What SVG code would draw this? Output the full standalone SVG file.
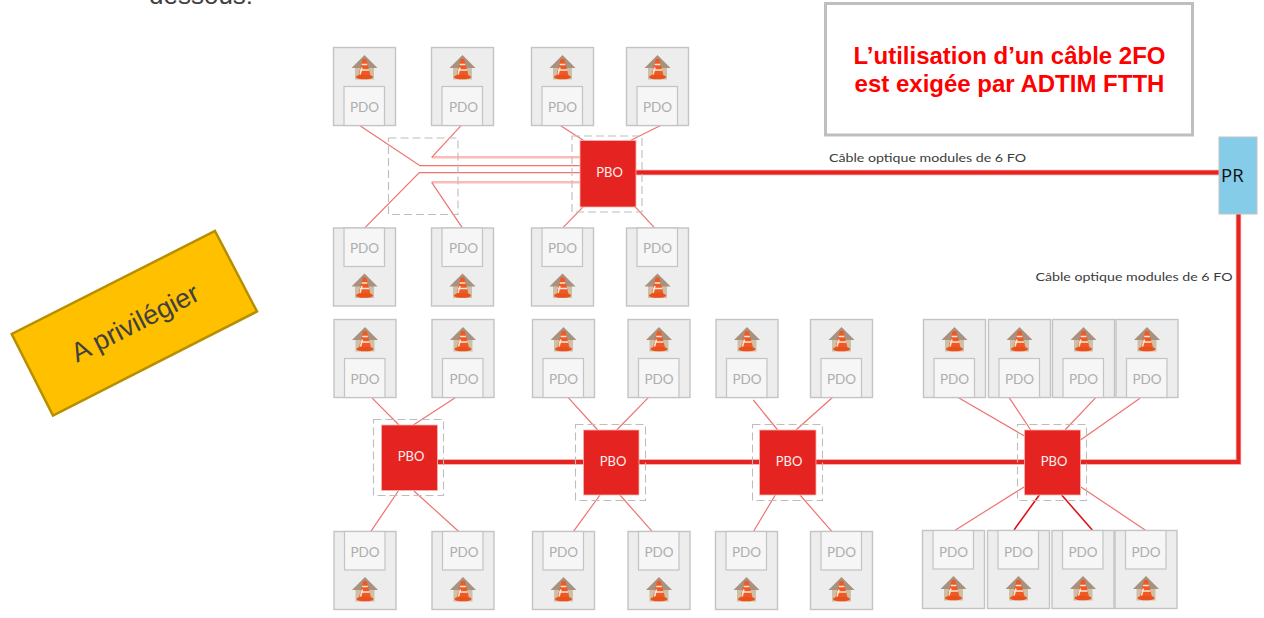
<svg xmlns="http://www.w3.org/2000/svg" xmlns:xlink="http://www.w3.org/1999/xlink" width="1264" height="618" viewBox="0 0 1264 618">
<style>
.card{fill:#ededed;stroke:#c4c4c4;stroke-width:1.4}
.inner{fill:#f6f6f6;stroke:#c4c4c4;stroke-width:1.2}
.pdo{font-family:"Lato","Open Sans",sans-serif;font-size:13.5px;fill:#aeaeae;text-anchor:middle}
.pbo{fill:#e52421;stroke:#f7b5b0;stroke-width:.8}
.pbot{font-family:"Lato","Open Sans",sans-serif;font-size:13px;fill:#fdeeee;text-anchor:middle}
.dash{fill:none;stroke:#bdbdbd;stroke-width:1.1;stroke-dasharray:8 4}
.thin{fill:none;stroke:#ee7370;stroke-width:1.2}
.thinb{fill:none;stroke:#f9bcb9;stroke-width:2.4}
.dark{fill:none;stroke:#e0121a;stroke-width:1.6}
.halo{fill:none;stroke:#f29a97;stroke-width:5.400}
.thick{fill:none;stroke:#e52421;stroke-width:3.800}
.cap{font-family:"Lato","Open Sans",sans-serif;font-size:12px;fill:#3c3c3c}
</style>
<defs>
<g id="house">
<rect x="-9.500" y="11" width="19" height="13.500" fill="#cfc0a5"/>
<polygon points="0,0 13,13 -13,13" fill="#a8927f"/>
<polygon points="-1.800,4 1.800,4 6,20.500 -6,20.500" fill="#ee5a24"/>
<path d="M-2.800,9.500 L2.800,9.500 M-4.500,15 L4.500,15 M-4.500,19.500 L-2.500,12.500" stroke="#fbe6dc" stroke-width="1.500" fill="none"/>
<ellipse cx="0" cy="22" rx="8.500" ry="2.300" fill="#ea4f1c"/>
</g>
<g id="up"><rect class="card" width="62" height="78"/><rect class="inner" x="10.500" y="39" width="40.500" height="39"/><use href="#house" x="31" y="7.500"/></g>
<g id="down"><rect class="card" width="62" height="78"/><rect class="inner" x="10.500" y="0" width="40.500" height="38.500"/><use href="#house" x="31" y="45.500"/></g>
</defs>
<rect width="1264" height="618" fill="#fff"/>
<text x="149" y="4" font-family="'Liberation Sans',Arial,sans-serif" font-size="26" fill="#404040">dessous:</text>
<g id="connectors">
<path class="thinb" d="M431.700 157.300H580M431.700 182.300H580"/>
<path class="thin" d="M461 125.700L431.700 157.300M462.700 228.300L431.700 182.300"/>
<path class="thin" d="M360 125.700L420 165.700H580M364.300 228.300L419.300 172.700H580"/>
<path class="thin" d="M560.700 125.700L584 140.700M660 125.700L630 140.700M562.300 228.300L583.300 206.700M655 228.300L635 206.700"/>
<path class="thin" d="M370.700 396.700L399 425M456.700 396.700L413.300 425M370.700 531.700L398.300 491M459 531.700L414 491"/>
<path class="thin" d="M567.300 396.700L597.700 430M649.300 396.700L616.700 430M573.300 531.700L600 495M652.300 531.700L620 495"/>
<path class="thin" d="M753.300 400L777.700 430M833.300 396.700L796 430M753.300 531.700L775.300 495M832 531.700L800 495"/>
<path class="thin" d="M957.700 397.300L1024.500 436M1009 397.300L1030.700 430M1096 397.300L1065 430M1140 398.300L1080.500 440M954.300 530.700L1024.500 486.700M1147.700 531.700L1080.500 486.700"/>
<path class="dark" d="M1014 530L1039.300 495M1092.300 530L1061.700 495"/>
<path class="halo" d="M636 172.500H1219M1238.500 214V462H437.500"/>
<path class="thick" d="M636 172.500H1219M1238.500 214V462H437.500"/>
</g>
<g id="zone-a"><rect class="dash" x="388.500" y="138" width="69.500" height="76.500"/></g>
<g id="pr"><rect x="1219" y="137" width="38" height="77" fill="#85cce9" stroke="#c4c4c4"/><text x="1221" y="182" font-family="'Open Sans',sans-serif" font-size="18.500" fill="#111">PR</text></g>
<g id="pbo-1"><rect class="dash" x="572" y="136" width="70" height="76"/><rect class="pbo" x="580" y="140.500" width="56" height="66.500"/><text class="pbot" x="609.500" y="177">PBO</text></g>
<g id="pbo-2"><rect class="dash" x="373.500" y="419.500" width="70" height="76"/><rect class="pbo" x="381.500" y="425" width="56" height="65.500"/><text class="pbot" x="411" y="461">PBO</text></g>
<g id="pbo-3"><rect class="dash" x="575.500" y="424.500" width="70" height="76"/><rect class="pbo" x="583.500" y="430" width="55.500" height="65"/><text class="pbot" x="613" y="466">PBO</text></g>
<g id="pbo-4"><rect class="dash" x="752.500" y="424.500" width="70" height="76"/><rect class="pbo" x="759.500" y="430" width="56.500" height="65"/><text class="pbot" x="789" y="466">PBO</text></g>
<g id="pbo-5"><rect class="dash" x="1017.500" y="424.500" width="69" height="76"/><rect class="pbo" x="1024.500" y="430" width="56" height="65"/><text class="pbot" x="1054" y="466">PBO</text></g>

<g id="pdo-1" transform="translate(333.500 47.500)"><use href="#up"/><text class="pdo" x="31" y="64">PDO</text></g>
<g id="pdo-2" transform="translate(431.500 47.500)"><use href="#up"/><text class="pdo" x="32" y="64">PDO</text></g>
<g id="pdo-3" transform="translate(531.500 47.500)"><use href="#up"/><text class="pdo" x="31" y="64">PDO</text></g>
<g id="pdo-4" transform="translate(626.500 47.500)"><use href="#up"/><text class="pdo" x="31" y="64">PDO</text></g>
<g id="pdo-5" transform="translate(333.500 228)"><use href="#down"/><text class="pdo" x="31" y="25">PDO</text></g>
<g id="pdo-6" transform="translate(431.500 228)"><use href="#down"/><text class="pdo" x="32" y="25">PDO</text></g>
<g id="pdo-7" transform="translate(531.500 228)"><use href="#down"/><text class="pdo" x="31" y="25">PDO</text></g>
<g id="pdo-8" transform="translate(626.500 228)"><use href="#down"/><text class="pdo" x="31" y="25">PDO</text></g>

<g id="pdo-9" transform="translate(334 319.500)"><use href="#up"/><text class="pdo" x="31" y="64">PDO</text></g>
<g id="pdo-10" transform="translate(432 319.500)"><use href="#up"/><text class="pdo" x="32" y="64">PDO</text></g>
<g id="pdo-11" transform="translate(532.500 319.500)"><use href="#up"/><text class="pdo" x="31" y="64">PDO</text></g>
<g id="pdo-12" transform="translate(628 319.500)"><use href="#up"/><text class="pdo" x="31" y="64">PDO</text></g>
<g id="pdo-13" transform="translate(716 319.500)"><use href="#up"/><text class="pdo" x="31" y="64">PDO</text></g>
<g id="pdo-14" transform="translate(810.500 319.500)"><use href="#up"/><text class="pdo" x="31" y="64">PDO</text></g>
<g id="pdo-15" transform="translate(923.500 319.500)"><use href="#up"/><text class="pdo" x="31" y="64">PDO</text></g>
<g id="pdo-16" transform="translate(988.500 319.500)"><use href="#up"/><text class="pdo" x="31" y="64">PDO</text></g>
<g id="pdo-17" transform="translate(1052.500 319.500)"><use href="#up"/><text class="pdo" x="31" y="64">PDO</text></g>
<g id="pdo-18" transform="translate(1116 319.500)"><use href="#up"/><text class="pdo" x="31" y="64">PDO</text></g>

<g id="pdo-19" transform="translate(334 531.500)"><use href="#down"/><text class="pdo" x="31" y="25">PDO</text></g>
<g id="pdo-20" transform="translate(432 531.500)"><use href="#down"/><text class="pdo" x="32" y="25">PDO</text></g>
<g id="pdo-21" transform="translate(532.500 531.500)"><use href="#down"/><text class="pdo" x="31" y="25">PDO</text></g>
<g id="pdo-22" transform="translate(628 531.500)"><use href="#down"/><text class="pdo" x="31" y="25">PDO</text></g>
<g id="pdo-23" transform="translate(715.500 531.500)"><use href="#down"/><text class="pdo" x="31" y="25">PDO</text></g>
<g id="pdo-24" transform="translate(810.500 531.500)"><use href="#down"/><text class="pdo" x="31" y="25">PDO</text></g>
<g id="pdo-25" transform="translate(922.500 530.500)"><use href="#down"/><text class="pdo" x="31" y="26">PDO</text></g>
<g id="pdo-26" transform="translate(987.500 530.500)"><use href="#down"/><text class="pdo" x="31" y="26">PDO</text></g>
<g id="pdo-27" transform="translate(1052 530.500)"><use href="#down"/><text class="pdo" x="31" y="26">PDO</text></g>
<g id="pdo-28" transform="translate(1115 530.500)"><use href="#down"/><text class="pdo" x="31" y="26">PDO</text></g>

<text class="cap" x="829" y="161.500" textLength="197" lengthAdjust="spacingAndGlyphs">Câble optique modules de 6 FO</text>
<text class="cap" x="1035.500" y="281" textLength="197" lengthAdjust="spacingAndGlyphs">Câble optique modules de 6 FO</text>
<g id="note"><rect x="825.500" y="3.500" width="367" height="131.500" fill="#fff" stroke="#bfbfbf" stroke-width="3"/>
<text font-family="'Liberation Sans',Arial,sans-serif" font-size="24" font-weight="700" fill="#ff0000" text-anchor="middle"><tspan x="1009.500" y="64">L’utilisation d’un câble 2FO</tspan><tspan x="1009.500" y="92">est exigée par ADTIM FTTH</tspan></text></g>
<g id="badge"><polygon points="215,231 257,311.500 53,415.500 11.700,334" fill="#ffc000" stroke="#b78e00" stroke-width="2.500"/>
<text transform="translate(135 323) rotate(-27.100)" x="0" y="9" font-family="'Liberation Sans',Arial,sans-serif" font-size="27" fill="#404040" text-anchor="middle">A privilégier</text></g>
</svg>
